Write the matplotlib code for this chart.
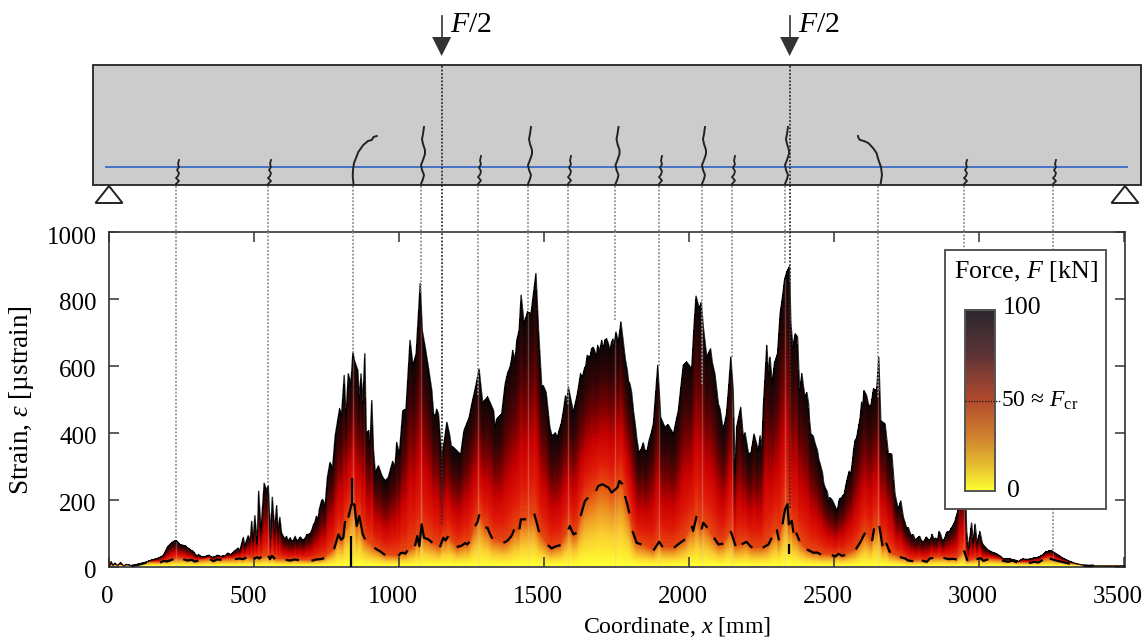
import numpy as np
import matplotlib
matplotlib.use('Agg')
import matplotlib.pyplot as plt
from matplotlib.colors import LinearSegmentedColormap
from matplotlib.patches import Rectangle, Polygon
from matplotlib.transforms import ScaledTranslation

plt.rcParams['font.family'] = ['Liberation Serif', 'DejaVu Serif']
plt.rcParams['mathtext.fontset'] = 'custom'
plt.rcParams['mathtext.rm'] = 'Liberation Serif'
plt.rcParams['mathtext.it'] = 'Liberation Serif:italic'
plt.rcParams['mathtext.bf'] = 'Liberation Serif:bold'
plt.rcParams['font.size'] = 17

# Strain at the last load step (F = 100 kN)
env_x = [0, 3, 7, 14, 20, 30, 40, 50, 62, 78, 101, 124, 147, 170, 187, 201, 210, 222, 233, 245,
         262, 273, 285, 302, 331, 365, 400, 428, 445, 451, 463, 468, 480, 487, 492, 497, 503, 511, 516, 524,
         535, 543, 549, 557, 563, 571, 578, 583, 589, 595, 606, 629, 652, 675, 693, 710, 721, 733, 737, 745,
         753, 762, 771, 780, 795, 802, 811, 817, 825, 834, 841, 846, 852, 858, 863, 869, 875, 882, 887, 895,
         900, 906, 912, 918, 929, 941, 952, 963, 978, 986, 992, 1001, 1013, 1024, 1038, 1048, 1059, 1073, 1080, 1091,
         1101, 1113, 1119, 1136, 1147, 1165, 1174, 1188, 1205, 1213, 1224, 1242, 1251, 1265, 1276, 1288, 1306, 1326, 1331, 1337,
         1354, 1366, 1383, 1392, 1400, 1406, 1414, 1421, 1431, 1443, 1455, 1472, 1481, 1492, 1497, 1507, 1520, 1532, 1546, 1566,
         1584, 1601, 1615, 1626, 1639, 1649, 1664, 1676, 1685, 1699, 1710, 1722, 1733, 1741, 1748, 1756, 1765, 1775, 1787, 1796,
         1808, 1827, 1848, 1862, 1877, 1892, 1902, 1917, 1928, 1946, 1963, 1980, 1992, 2009, 2017, 2024, 2035, 2042, 2049, 2061,
         2074, 2089, 2101, 2116, 2129, 2144, 2152, 2159, 2164, 2178, 2187, 2193, 2205, 2214, 2224, 2239, 2245, 2251, 2256, 2268,
         2274, 2279, 2287, 2294, 2305, 2314, 2323, 2329, 2337, 2346, 2351, 2358, 2366, 2374, 2381, 2389, 2400, 2412, 2420, 2435,
         2452, 2469, 2486, 2503, 2511, 2526, 2544, 2561, 2572, 2584, 2595, 2603, 2612, 2618, 2626, 2636, 2647, 2654, 2661, 2676,
         2687, 2699, 2710, 2721, 2730, 2739, 2756, 2768, 2779, 2802, 2825, 2845, 2857, 2868, 2880, 2898, 2915, 2928, 2933, 2952,
         2957, 2964, 2974, 2980, 2986, 2993, 3003, 3011, 3020, 3044, 3073, 3102, 3137, 3172, 3207, 3231, 3248, 3266, 3289, 3313,
         3336, 3365, 3400, 3450, 3503]
env_y = [2, 2, 15, 3, 10, 3, 12, 2, 6, 2, 7, 12, 19, 25, 32, 57, 65, 75, 77, 65,
         62, 55, 47, 32, 29, 29, 32, 42, 55, 47, 87, 62, 92, 77, 135, 77, 152, 67, 225, 107,
         249, 227, 242, 87, 207, 107, 182, 102, 147, 100, 82, 77, 79, 82, 97, 132, 142, 197, 200, 180,
         266, 311, 296, 391, 471, 456, 571, 446, 576, 546, 641, 616, 601, 586, 496, 576, 486, 636, 396, 406,
         366, 496, 346, 281, 301, 271, 256, 266, 314, 296, 371, 336, 466, 471, 676, 601, 636, 846, 706, 651,
         596, 526, 456, 456, 326, 431, 396, 356, 341, 336, 406, 446, 486, 541, 590, 491, 506, 466, 416, 441,
         456, 546, 596, 646, 616, 676, 706, 811, 726, 761, 756, 876, 706, 536, 541, 521, 416, 391, 386, 461,
         536, 461, 516, 576, 591, 631, 651, 641, 661, 676, 678, 666, 671, 656, 701, 671, 731, 656, 586, 546,
         466, 341, 346, 376, 426, 601, 446, 416, 424, 396, 466, 601, 611, 591, 716, 808, 771, 790, 716, 626,
         651, 576, 486, 416, 456, 626, 526, 276, 416, 476, 386, 400, 336, 341, 396, 346, 391, 356, 476, 661,
         571, 626, 546, 606, 636, 756, 811, 856, 881, 896, 726, 656, 696, 686, 526, 576, 506, 486, 396, 366,
         306, 236, 206, 181, 166, 206, 256, 296, 376, 416, 491, 526, 511, 486, 476, 531, 526, 626, 436, 426,
         336, 336, 216, 171, 196, 146, 116, 91, 81, 76, 81, 79, 79, 94, 79, 104, 130, 170, 260, 260,
         105, 53, 130, 70, 127, 70, 104, 69, 59, 43, 31, 23, 15, 21, 28, 43, 48, 38, 25, 15,
         8, 3, 2, 1, 2]

# Small teeth of the same curve, read from the close-ups
teeth_x = [290, 310, 320, 345, 355, 375, 385, 410, 420,
           612, 618, 625, 635, 642, 648, 660, 668, 682, 700, 705, 715, 725,
           1125, 1130, 1155, 1160, 1180, 1195, 1218,
           1360, 1375, 1388, 1526, 1539, 1553, 1560, 1574, 1578, 1632, 1644,
           1658, 1670, 1680, 1692, 1704, 1716, 1727, 1738, 1780, 1791, 1802, 1815, 1820,
           1835, 1842, 1855, 1870, 2080, 2095, 2107, 2122, 2136, 2394, 2406, 2415,
           2428, 2443, 2447, 2460, 2464, 2477, 2481, 2494, 2518, 2535, 2540, 2552, 2557, 2567, 2578, 2590, 2599,
           2745, 2750, 2762, 2773, 2785, 2795, 2810, 2818, 2832, 2838, 2850, 2862, 2873, 2888, 2905,
           3030, 3060, 3085, 3120, 3150, 3190, 3218]
teeth_y = [45, 35, 28, 34, 27, 34, 30, 40, 35,
           90, 76, 86, 76, 90, 76, 88, 78, 95, 110, 125, 150, 170,
           450, 470, 370, 400, 360, 350, 370,
           500, 580, 620, 395, 400, 410, 430, 510, 490, 565, 600,
           625, 655, 625, 645, 650, 680, 645, 680, 620, 555, 520, 420, 380,
           350, 370, 345, 400, 610, 530, 470, 425, 530, 540, 520, 440,
           390, 345, 320, 280, 250, 222, 195, 198, 200, 215, 240, 285, 275, 345, 385, 445, 480,
           130, 115, 100, 95, 82, 90, 75, 88, 78, 96, 85, 105, 78, 102, 115,
           50, 38, 22, 20, 22, 25, 34]

# Dashed curve at F = 50 kN, None marks a gap between dashes
fifty_x = [78, 100, 115, 130, None, 176, 190, 200, 222, None, 256, 270, 285, 295, 308, None,
           348, 360, 372, 388, None, 434, 450, 462, 474, None, 500, 510, 518, 526, None,
           549, 555, 562, 572, None, 609, 625, 640, 655, None, 698, 715, 730, 742, None,
           776, 791, 800, 808, 814, None, 825, 836, 846, 854, 863, 875, 883, None,
           915, 925, 934, 943, 952, None, 998, 1005, 1015, 1022, 1029, None,
           1055, 1063, 1070, 1078, 1086, 1101, 1115, None,
           1141, 1148, 1153, 1160, 1170, None, 1199, 1215, 1228, 1235, 1243, None, 1262, 1270, 1277, None,
           1297, 1305, 1312, 1322, None, 1360, 1372, 1383, 1390, 1397, None, 1415, 1420, 1438, None, 1466, 1475, 1483, None,
           1513, 1526, 1540, 1557, None, 1584, 1589, 1601, 1612, None, 1626, 1641, 1652, None,
           1679, 1687, 1701, 1722, 1733, 1753, 1760, 1771, None, 1779, 1787, 1794, None, 1805, 1819, 1836, None,
           1877, 1897, 1909, None, 1948, 1965, 1986, None, 2009, 2014, 2026, None, 2043, 2049, 2063, None,
           2086, 2101, 2118, None, 2143, 2150, 2160, None, 2181, 2198, 2210, 2218, None, 2254, 2274, 2285, None,
           2302, 2310, None, 2322, 2331, 2339, 2344, 2354, 2360, None, 2369, 2381, None,
           2406, 2418, 2429, 2440, 2455, None, 2492, 2505, 2515, 2527, 2538, None, 2575, 2590, 2607, None, 2631, 2638, None,
           2656, 2667, None, 2679, 2693, None, 2727, 2745, 2755, 2773, None, 2802, 2820, 2830, 2842, None,
           2877, 2895, 2910, 2923, None, 2948, 2960, None, 2991, 3005, 3015, 3032, None,
           3079, 3100, 3115, 3131, None, 3172, 3190, 3205, 3219, None, 3243, 3265, 3285, 3313, None, 3360, 3378, 3395]
fifty_y = [2, 5, 8, 12, None, 12, 17, 15, 22, None, 22, 18, 20, 15, 17, None,
           22, 16, 21, 20, None, 22, 24, 22, 27, None, 22, 28, 24, 29, None,
           32, 22, 32, 22, None, 20, 18, 21, 19, None, 17, 21, 22, 25, None,
           52, 96, 80, 86, 136, None, 146, 186, 186, 121, 151, 96, 81, None,
           56, 50, 46, 40, 34, None, 31, 40, 41, 38, 48, None,
           61, 91, 61, 126, 86, 81, 71, None,
           58, 75, 86, 78, 91, None, 58, 62, 70, 66, 74, None, 121, 132, 156, None,
           116, 116, 100, 83, None, 71, 76, 86, 95, 111, None, 111, 141, 141, None, 158, 130, 103, None,
           64, 54, 60, 64, None, 111, 121, 96, 101, None, 151, 196, 206, None,
           226, 241, 246, 236, 221, 236, 256, 246, None, 211, 186, 159, None, 106, 71, 66, None,
           48, 74, 58, None, 56, 68, 81, None, 121, 106, 151, None, 111, 131, 116, None,
           86, 66, 68, None, 106, 90, 61, None, 66, 74, 62, 56, None, 56, 66, 86, None,
           111, 78, None, 126, 171, 186, 126, 136, 101, None, 101, 76, None,
           51, 46, 41, 42, 36, None, 34, 30, 38, 32, 34, None, 51, 72, 101, None, 76, 114, None,
           121, 61, None, 71, 41, None, 28, 24, 18, 16, None, 18, 14, 24, 26, None,
           26, 22, 23, 21, None, 48, 16, None, 22, 25, 17, 22, None,
           18, 14, 18, 12, None, 10, 14, 12, 20, None, 24, 18, 14, 8, None, 3, 2, 3]

# Steep parts of the F = 50 kN curve that stand alone
spike_x = [833, 833, None, 839, 839, None, 2346, 2346]
spike_y = [0, 91, None, 190, 266, None, 36, 68]

# Crack positions on the beam [mm] and the strain where their dotted lines stop
crack_x = [231, 548, 841, 1076, 1272, 1445, 1583, 1745, 1897, 2045, 2148, 2331, 2652, 2948, 3255]
crack_stop = [85, 250, 638, 817, 513, 767, 486, 736, 600, 546, 626, 907, 507, 200, 50]
load_x = [1147, 2347]
load_stop = [126, 176]

x_ticks = [0, 500, 1000, 1500, 2000, 2500, 3000, 3500]
y_ticks = [0, 200, 400, 600, 800, 1000]

# Colours of the strain field and of the legend bar, from F = 0 to 100
field_cmap = LinearSegmentedColormap.from_list('field', [
    (0.0, '#ffff33'), (0.18, '#fbd030'), (0.33, '#ee9a25'), (0.47, '#e65a14'), (0.58, '#e01a08'),
    (0.68, '#c80000'), (0.78, '#7a0000'), (0.88, '#3a0404'), (1.0, '#0c0606')], N=64)
bar_cmap = LinearSegmentedColormap.from_list('bar', [
    (0.0, '#ffff33'), (0.15, '#e3b92f'), (0.3, '#d0802f'), (0.5, '#b44a2e'),
    (0.75, '#5c3436'), (1.0, '#2b2730')])

PX_PER_MM = 0.29
X0 = 109
W, H = 1143, 639
TOP, BOTTOM = 232, 566.5


def px(x):
    return X0 + PX_PER_MM * np.asarray(x, dtype=float)


fig = plt.figure(figsize=(W / 100, H / 100), dpi=100)
ax = fig.add_axes([X0 / W, (H - BOTTOM) / H, 1016 / W, (BOTTOM - TOP) / H])

# strain field: force at each point from the two curves read above
env_x_a = np.array(env_x + teeth_x, dtype=float)
env_y_a = np.array(env_y + teeth_y, dtype=float)
env_order = np.argsort(env_x_a, kind='stable')
env_x_a = env_x_a[env_order]
env_y_a = env_y_a[env_order]
fx = np.array(fifty_x, dtype=float)
fy = np.array(fifty_y, dtype=float)
keep = ~np.isnan(fx)
order = np.argsort(fx[keep])
xg = np.linspace(0, 3503, 2032)
yg = np.linspace(0, 1000, 1338)
e_i = np.interp(xg, env_x_a, env_y_a)
f_i = np.minimum(np.interp(xg, fx[keep][order], fy[keep][order]), 0.75 * e_i)
XX, YY = np.meshgrid(xg, yg)
E = e_i[None, :]
Fm = f_i[None, :]
force = np.where(YY < Fm, 50 * YY / np.maximum(Fm, 1e-6), 50 + 50 * (YY - Fm) / np.maximum(E - Fm, 1e-6))
force = np.ma.masked_where(YY > E, force)
ax.imshow(force, origin='lower', extent=[0, 3503, 0, 1000], aspect='auto', cmap=field_cmap,
          vmin=0, vmax=100, interpolation='nearest', zorder=1)

# faint streaks below the crack lines
ax.vlines(crack_x, 0, np.interp(crack_x, env_x_a, env_y_a), color='#e0c0b8', alpha=0.3, lw=1.0, zorder=2)
ax.plot(env_x_a, env_y_a, color='black', lw=1.0, alpha=0.85, zorder=3)

ax.plot(fifty_x, fifty_y, color='black', lw=1.6, zorder=4, solid_capstyle='butt')
ax.plot(spike_x, spike_y, color='black', lw=1.6, zorder=4, solid_capstyle='butt')

for cx, stop in zip(crack_x, crack_stop):
    ax.plot([cx, cx], [stop, 1000], color='#909090', lw=1.3, ls=(0, (1, 1)), zorder=5)
for cx, stop in zip(load_x, load_stop):
    ax.plot([cx, cx], [stop, 1000], color='#303030', lw=1.3, ls=(0, (1, 1)), zorder=5)

ax.set_xlim(0, 3503)
ax.set_ylim(0, 1000)
ax.set_xticks(x_ticks)
ax.set_yticks(y_ticks)
ax.tick_params(direction='in', length=7.2, width=1.1, top=True, right=True, color='#333333', labelsize=18)
ax.tick_params(axis='x', pad=14)
ax.tick_params(axis='y', pad=9)
for spine in ax.spines.values():
    spine.set_linewidth(1.2)
    spine.set_color('#333333')
for lab, val in zip(ax.get_xticklabels(), x_ticks):
    dx = -2 if val == 0 else -6
    lab.set_transform(lab.get_transform() + ScaledTranslation(dx / 100, 0, fig.dpi_scale_trans))
for lab in ax.get_yticklabels():
    lab.set_transform(lab.get_transform() + ScaledTranslation(0, -3 / 100, fig.dpi_scale_trans))

# Overlay in pixel coordinates for the beam sketch and the legend
sk = fig.add_axes([0, 0, 1, 1], zorder=5)
sk.patch.set_alpha(0)
sk.axis('off')

sk.add_patch(Rectangle((93, 65), 1048, 120, fc='#cccccc', ec='#222222', lw=1.3))
sk.plot([106, 1127], [166.5, 166.5], color='#4472c4', lw=1.4)

for ax_px in [109, 1125]:
    sk.add_patch(Polygon([(ax_px, 186), (ax_px - 13.5, 203), (ax_px + 13.5, 203)], fc='white', ec='#222222', lw=1.4))

for cx in load_x:
    p = px(cx)
    sk.plot([p, p], [16, 40], color='#333333', lw=1.2)
    sk.add_patch(Polygon([(p, 56), (p - 9.5, 37), (p + 9.5, 37)], fc='#333333', ec='none'))
    sk.plot([p, p], [66, 232], color='#303030', lw=1.3, ls=(0, (1, 1)))
    sk.text(p + 8, 25, '$F$/2', fontsize=21.5, ha='left', va='center')

for cx in crack_x:
    sk.plot([px(cx), px(cx)], [186, 232], color='#909090', lw=1.3, ls=(0, (1, 1)))

# Crack shapes, offsets from the bottom of the crack in pixels
small_dx = [0, 3, 0, 2, 3, 1, 3, 2, 3]
small_dy = [0, -3, -6, -8, -11, -14, -17, -20, -24]
tall_dx = [0, 2, 3, 1, 0, 2, 4, 4, 2, 1, 2, 3]
tall_dy = [0, -5, -9, -14, -19, -24, -30, -34, -40, -45, -50, -57]
for p, top in [(176, 24), (268, 24), (478, 28), (568, 28), (659, 28), (732, 28), (964, 24), (1053, 24)]:
    sk.plot(p + np.array(small_dx), 184 + np.array(small_dy) * top / 24, color='#222222', lw=1.3)
for p in [421, 528, 615.5, 702, 785]:
    sk.plot(p + np.array(tall_dx), 184 + np.array(tall_dy), color='#222222', lw=1.4)
sk.plot([353.5, 352.7, 353, 354, 356, 358.3, 363.3, 368, 371.7, 373.5, 376.7],
        [184, 176, 170, 163, 158, 152, 145, 141, 140, 137, 136], color='#222222', lw=1.4)
sk.plot([880.6, 882, 881, 878.5, 876.5, 873, 868.3, 864, 860, 858.5, 858],
        [184, 175, 167, 160, 153, 148, 143, 141, 140, 138, 136], color='#222222', lw=1.4)

# Legend box with its colour bar
sk.add_patch(Rectangle((944.5, 250), 161, 259, fc='white', ec='#555555', lw=1.4))
sk.text(1026, 272, 'Force, $F$ [kN]', fontsize=18.7, ha='center', va='center')
grad = np.linspace(1, 0, 256)[:, None]
sk.imshow(grad, cmap=bar_cmap, extent=[965, 995, 491, 309.5], aspect='auto', vmin=0, vmax=1, zorder=2)
sk.add_patch(Rectangle((965, 309.5), 30, 181.5, fc='none', ec='#555555', lw=1.4, zorder=3))
sk.plot([965, 1000], [400.5, 400.5], color='#222222', lw=1.0, ls=(0, (1, 1)), zorder=4)
sk.text(1003, 308, '100', fontsize=18.5, ha='left', va='center')
sk.text(1001, 401, '50 ≈ $F_{\\mathrm{cr}}$', fontsize=17, ha='left', va='center')
sk.text(1007, 491, '0', fontsize=18.5, ha='left', va='center')

# Axis titles
sk.text(677, 627, 'Coordinate, $x$ [mm]', fontsize=17.2, ha='center', va='center')
sk.text(22, 400, 'Strain, $\\varepsilon$ [µstrain]', fontsize=19.5, rotation=90, ha='center', va='center')

sk.set_xlim(0, W)
sk.set_ylim(H, 0)

fig.savefig('out.png', dpi=100)
